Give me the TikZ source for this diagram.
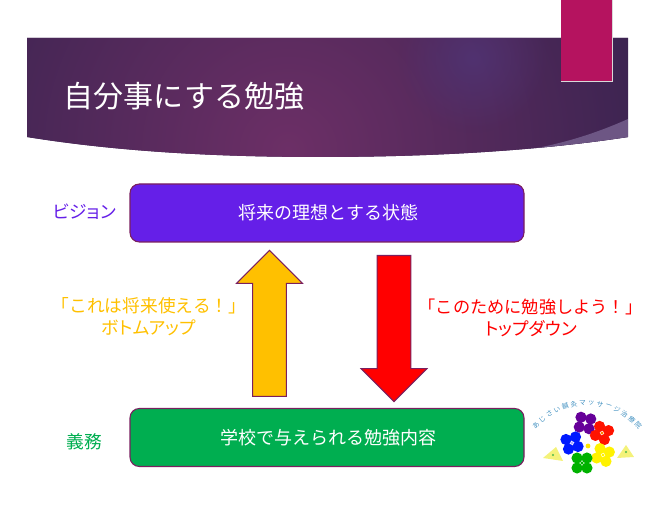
\documentclass[tikz,border=0pt]{standalone}
\usepackage{fontspec}
\setmainfont{Noto Sans CJK JP}
\newfontfamily\kanafont[RawFeature=+palt]{Noto Sans CJK JP}
\usetikzlibrary{shapes.arrows,fadings}
\definecolor{bannerdark}{HTML}{38234F}
\definecolor{bannermid}{HTML}{6C2F66}
\definecolor{bannerglow}{HTML}{503270}
\definecolor{swooshcol}{HTML}{6D5684}
\definecolor{ribboncol}{HTML}{B5135F}
\definecolor{edgecol}{HTML}{7A1F5F}
\definecolor{visioncol}{HTML}{651FE8}
\definecolor{dutycol}{HTML}{00AE50}
\definecolor{upcol}{HTML}{FFC000}
\definecolor{logocol}{HTML}{3F8FC0}
\definecolor{pennantcol}{HTML}{F4F27A}
\tikzfading[name=glowfade,inner color=transparent!0,outer color=transparent!100]
\tikzset{
	mainbox/.style={draw=edgecol,line width=0.8pt,rounded corners=7pt,minimum width=295.5pt,minimum height=43.5pt,text=white,font=\fontsize{13.5}{16}\selectfont},
	sidelabel/.style={font=\fontsize{13.3}{16}\selectfont,align=center},
	blockarrow/.style={single arrow,draw=edgecol,line width=0.8pt,minimum height=109.5pt,minimum width=48.75pt,inner sep=12.3pt,single arrow head extend=12pt,anchor=tail},
	petal/.style={radius=5.6},
}
\begin{document}
\begin{tikzpicture}[x=0.75pt,y=-0.75pt]
	\useasboundingbox (0,0) rectangle (662,506);
	% banner
	\begin{scope}
		\clip (27,38) -- (628,38) -- (628,137) .. controls (530,152) and (420,157) .. (320,157) .. controls (220,157) and (120,152) .. (27,137) -- cycle;
		\fill[bannerdark] (0,0) rectangle (662,200);
		\shade[inner color=bannermid,outer color=bannerdark] (288,150) circle (390);
		\fill[bannerglow,path fading=glowfade] (473,58) circle (75);
		\fill[swooshcol] (628,119) .. controls (570,145) and (520,153) .. (460,158) -- (628,158) -- cycle;
	\end{scope}
	\fill[black!15] (561,0) rectangle (613,82);
	\fill[ribboncol] (561,0) rectangle (612,81);
	\node[anchor=west,text=white,inner sep=0pt,font=\fontsize{22.5}{26}\selectfont] (title) at (63.5,96) {自分事にする勉強};
	% boxes
	\node[mainbox,fill=visioncol] (vision) at (327,213) {\hspace*{2pt}\raisebox{-1pt}{将来の理想とする状態}};
	\node[mainbox,fill=dutycol] (duty) at (327,437.5) {\hspace*{2pt}\raisebox{-1pt}{学校で与えられる勉強内容}};
	\node[sidelabel,text=visioncol] (visionlabel) at (84.5,212) {\kanafont ビジョン};
	\node[sidelabel,text=dutycol] (dutylabel) at (84,442) {義務};
	% arrows
	\node[blockarrow,fill=upcol,rotate=90] (bottomup) at (269.5,397) {};
	\node[blockarrow,fill=red,rotate=-90] (topdown) at (394,255) {};
	\node[sidelabel,text=upcol] (upline) at (149,306) {「これは将来使える！」};
	\node[sidelabel,text=upcol] (upname) at (149,328) {\kanafont ボトムアップ};
	\node[sidelabel,text=red,font=\fontsize{12.9}{16}\selectfont] (downline) at (530.5,307) {「このために勉強しよう！」};
	\node[sidelabel,text=red] (downname) at (531,329) {\kanafont トップダウン};
	% logo
	\coordinate (logoc) at (587,473);
	\foreach \c [count=\i, evaluate=\i as \a using 137-(\i-1)*94/13] in {あ,じ,さ,い,鍼,灸,マ,ッ,サ,ー,ジ,治,療,院}
		\node[text=logocol,inner sep=0pt,rotate=\a-90,font=\fontsize{5}{6}\selectfont] at ([shift={(-\a:70)}]logoc) {\c};
	\fill[pennantcol] (543,458) -- (556,447) -- (563,461) -- cycle;
	\fill[pennantcol] (617,458) -- (626,445) -- (634,457) -- cycle;
	\fill[green!60!black!70] (553,455) circle (1.2);
	\fill[green!60!black!70] (626,452) circle (1.2);
	\foreach \x/\y/\rot/\col/\mid in {585/423/10/{blue!60!red}/white, 602/433/25/{red!85!orange}/orange, 572/443/-15/{blue!90!cyan}/{blue!30}, 603/455/20/{yellow}/yellow, 582/463/0/{green!70!black}/{green!70!black}}{
		\foreach \b in {45,135,225,315}
			\fill[\col] ([shift={(\b+\rot:7)}]\x,\y) circle[petal];
		\fill[\mid] (\x,\y) circle (1.6);
	}
	\fill[yellow!90!orange] (588,446) circle (2.4);
\end{tikzpicture}
\end{document}
